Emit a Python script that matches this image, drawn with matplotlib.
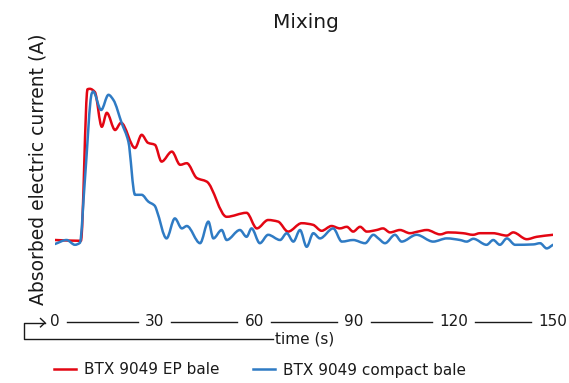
import numpy as np
import matplotlib
matplotlib.use('Agg')
import matplotlib.pyplot as plt
from matplotlib.lines import Line2D
from matplotlib.path import Path
from matplotlib.patches import PathPatch
import matplotlib.transforms as mtransforms

# time (s) and absorbed current (A)
ep_time = [0, 7.8, 9.8, 10.5, 12.0, 14.1, 15.6, 18.1, 19.9, 24.1, 26.1, 28.0, 30.1, 32.1,
           35.2, 37.7, 39.7, 42.7, 45.7, 51.7, 57.7, 60.8, 64.2, 67.2, 70.2, 74.3, 77.7,
           80.3, 83.3, 85.8, 87.9, 89.8, 91.9, 93.9, 96.9, 98.8, 100.9, 103.9, 106.9,
           109.3, 112.0, 116.0, 118.4, 122.9, 125.9, 128.0, 131.9, 136.1, 138.0, 142.1,
           145.1, 150.0]
ep_current = [15.0, 14.8, 52.7, 52.8, 52.0, 43.3, 46.8, 42.5, 44.3, 38.0, 41.3, 39.3, 38.8,
              34.6, 37.1, 33.8, 34.2, 30.5, 29.6, 20.8, 21.8, 17.9, 20.0, 19.6, 17.1, 19.2,
              18.8, 17.3, 18.5, 17.9, 18.3, 17.1, 18.3, 17.1, 17.5, 17.9, 16.9, 17.5, 16.7,
              17.1, 17.5, 16.4, 16.9, 16.7, 16.3, 16.7, 16.7, 16.1, 16.9, 15.2, 15.8, 16.3]

compact_time = [0, 3.5, 6.0, 7.5, 9.0, 11.1, 11.5, 13.9, 16.1, 17.6, 20.1, 22.1, 24.1, 26.1,
                28.1, 30.1, 30.6, 33.6, 36.1, 38.2, 39.7, 43.7, 46.2, 47.7, 50.2, 51.7, 55.7,
                57.7, 59.2, 61.7, 64.2, 67.8, 69.8, 71.8, 73.8, 75.8, 77.8, 79.8, 83.8, 86.4,
                89.8, 93.4, 95.9, 97.4, 99.4, 102.4, 104.4, 108.9, 113.9, 118.0, 122.0, 124.0,
                126.0, 130.0, 132.0, 134.0, 136.1, 138.6, 144.1, 146.1, 148.1, 150.0]
compact_current = [14.0, 15.0, 13.8, 14.3, 30.0, 51.7, 52.1, 47.5, 51.3, 50.0, 44.2, 39.6,
                   26.3, 26.3, 24.6, 23.5, 22.5, 15.4, 20.4, 17.9, 18.5, 14.2, 19.6, 15.4,
                   17.5, 15.0, 17.5, 15.8, 17.9, 14.2, 16.3, 15.0, 16.7, 14.6, 17.5, 13.3,
                   16.7, 15.4, 17.9, 14.6, 15.0, 14.2, 16.3, 15.4, 14.2, 16.3, 14.6, 16.3,
                   14.6, 15.4, 15.0, 14.6, 15.3, 13.8, 15.0, 13.8, 15.4, 13.8, 13.9, 14.2,
                   12.9, 13.8]

x_ticks = [0, 30, 60, 90, 120, 150]
series_labels = ['BTX 9049 EP bale', 'BTX 9049 compact bale']

RED = '#e30613'
BLUE = '#2f7bc4'
INK = '#1a1a1a'
W, H = 569, 383

def fx(px):
    return px / W

def fy(py):
    return 1 - py / H

def smooth_path(x, y):
    # monotone cubic (pchip-like) bezier through the points, no overshoot
    x = np.asarray(x, float)
    y = np.asarray(y, float)
    h = np.diff(x)
    d = np.diff(y) / h
    m = np.zeros_like(y)
    m[0], m[-1] = d[0], d[-1]
    for k in range(1, len(x) - 1):
        if d[k - 1] * d[k] > 0:
            w1 = 2 * h[k] + h[k - 1]
            w2 = h[k] + 2 * h[k - 1]
            m[k] = (w1 + w2) / (w1 / d[k - 1] + w2 / d[k])
    verts = [(x[0], y[0])]
    codes = [Path.MOVETO]
    for k in range(len(x) - 1):
        verts += [(x[k] + h[k] / 3, y[k] + m[k] * h[k] / 3),
                  (x[k + 1] - h[k] / 3, y[k + 1] - m[k + 1] * h[k] / 3),
                  (x[k + 1], y[k + 1])]
        codes += [Path.CURVE4] * 3
    return Path(verts, codes)

plt.rcParams['font.family'] = 'DejaVu Sans'
fig = plt.figure(figsize=(W / 100, H / 100), dpi=100)
ax = fig.add_axes([fx(55), fy(260), fx(553) - fx(55), fy(80) - fy(260)])

for xs, ys, c in [(ep_time, ep_current, RED), (compact_time, compact_current, BLUE)]:
    ax.add_patch(PathPatch(smooth_path(xs, ys), facecolor='none', edgecolor=c,
                           lw=1.8, joinstyle='round', capstyle='round'))
ax.set_xlim(0, 150)
ax.set_ylim(10, 55)
ax.axis('off')

# custom x axis: labels joined by lines
px_per = (553 - 55) / 150
tr = mtransforms.blended_transform_factory(ax.transData, fig.transFigure)
y_tick = fy(322)
for t in x_ticks:
    ax.text(t, y_tick, str(t), transform=tr, ha='center', va='center',
            fontsize=11, color=INK, clip_on=False)
for a, b in zip(x_ticks[:-1], x_ticks[1:]):
    x0 = a + (len(str(a)) * 4.9 + 7) / px_per
    x1 = b - (len(str(b)) * 4.9 + 7) / px_per
    ax.add_artist(Line2D([x0, x1], [y_tick, y_tick], transform=tr, color=INK,
                         lw=1.0, clip_on=False))

# bracket arrow from the time label to the axis
fig.add_artist(Line2D([fx(273), fx(24.3), fx(24.3), fx(45)],
                      [fy(339.3), fy(339.3), fy(322.7), fy(322.7)],
                      transform=fig.transFigure, color=INK, lw=1.0))
fig.add_artist(Line2D([fx(40.5), fx(45), fx(40.5)],
                      [fy(318.5), fy(322.7), fy(326.9)],
                      transform=fig.transFigure, color=INK, lw=1.0))
fig.text(fx(275), fy(339), 'time (s)', ha='left', va='center', fontsize=11, color=INK)

fig.text(fx(38), fy(169), 'Absorbed electric current (A)', rotation=90,
         ha='center', va='center', fontsize=13.5, color=INK)
fig.text(fx(306), fy(23), 'Mixing', ha='center', va='center', fontsize=14.5, color=INK)

handles = [Line2D([], [], color=RED, lw=1.8), Line2D([], [], color=BLUE, lw=1.8)]
fig.legend(handles, series_labels, loc='center left', bbox_to_anchor=(fx(54), fy(370)),
           ncol=2, frameon=False, fontsize=11, handlelength=1.45, handletextpad=0.5,
           columnspacing=2.2, borderpad=0, borderaxespad=0, labelcolor=INK)

fig.savefig('out.png', dpi=100)
